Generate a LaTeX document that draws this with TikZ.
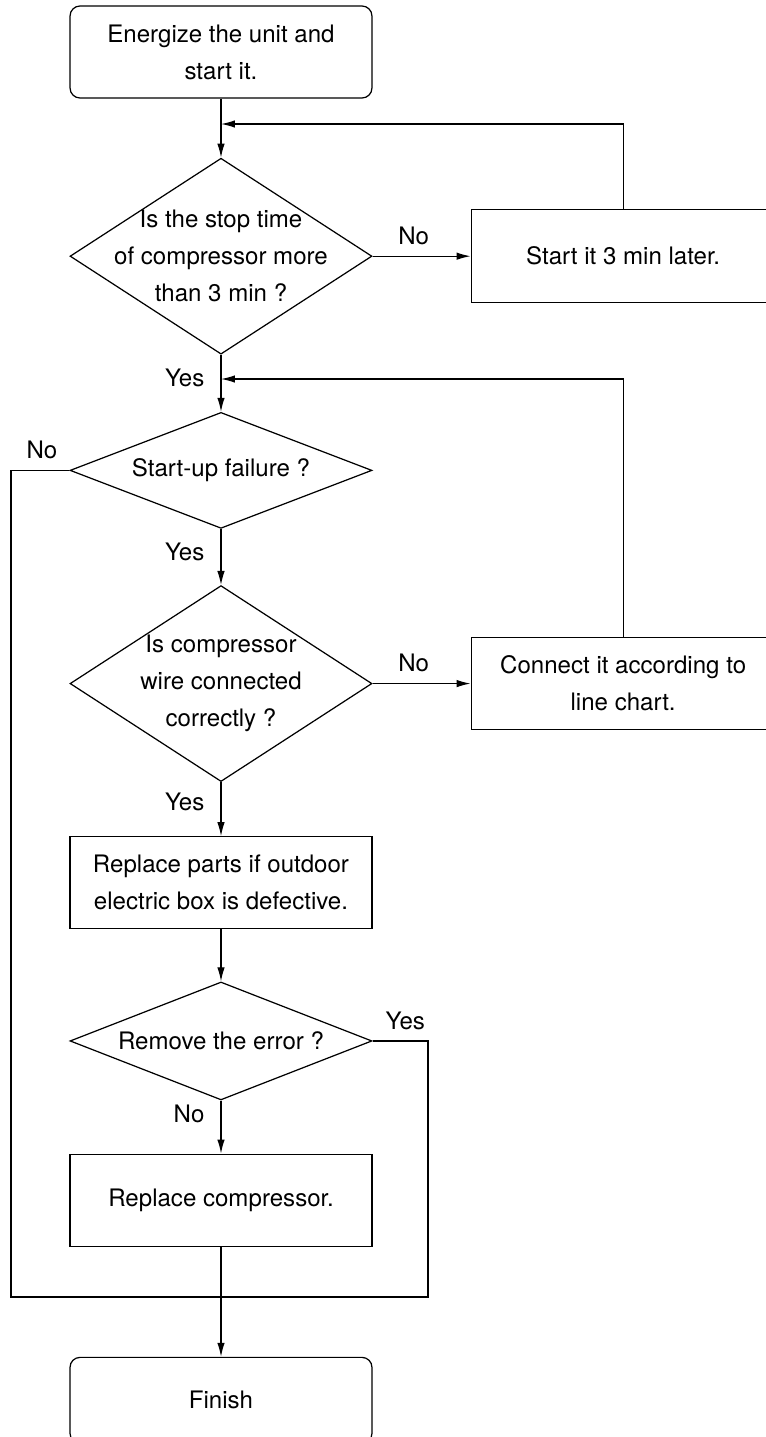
\documentclass[tikz,border=0pt]{standalone}
\usepackage{fontspec}
\setmainfont{TeX Gyre Heros}
\usetikzlibrary{positioning, arrows.meta, shapes.geometric}

\begin{document}
\begin{tikzpicture}[x=0.02cm,y=-0.02cm,->,>={Latex[length=2.8mm,width=1.5mm]},
      line width=0.7pt,font=\fontsize{13.7}{21}\selectfont,
      box/.style={draw,rectangle,align=center,inner sep=0pt,
        minimum width=6.04cm,minimum height=1.84cm},
      terminal/.style={box,rounded corners=0.2cm},
      decision/.style={draw,diamond,inner sep=0pt,minimum width=6.04cm},
      question/.style={align=center,inner sep=0pt},
      answer/.style={inner sep=0pt}]
      \useasboundingbox (0,0) rectangle (765,1437);
      \node[terminal] (start) at (221,52) {Energize the unit and\\start it.};
      \node[decision,minimum height=3.92cm,below=1.18cm of start] (stop) {};
      \node[question] (stoptext) at (stop) {Is the stop time\\of compressor more\\than 3 min ?};
      \node[box,minimum width=6.08cm,minimum height=1.86cm,right=1.96cm of stop] (later) {Start it 3 min later.};
      \node[decision,minimum height=2.32cm,below=1.14cm of stop] (fail) {};
      \node[question] (failtext) at (fail) {Start-up failure ?};
      \node[decision,minimum height=3.92cm,below=1.12cm of fail] (wire) {};
      \node[question] (wiretext) at (wire) {Is compressor\\wire connected\\correctly ?};
      \node[box,minimum width=6.08cm,right=1.96cm of wire] (fix) {Connect it according to\\line chart.};
      \node[box,below=1.08cm of wire] (parts) {Replace parts if outdoor\\electric box is defective.};
      \node[decision,minimum height=2.36cm,below=1.04cm of parts] (error) {};
      \node[question] (errortext) at (error) {Remove the error ?};
      \node[box,below=1.06cm of error] (comp) {Replace compressor.};
      \node[terminal,minimum height=1.72cm,below=2.2cm of comp] (finish) {Finish};

      \coordinate (back1) at (221,124);
      \coordinate (back2) at (221,379);
      \coordinate (lb) at (11,1297);
      \coordinate (rb) at (428,1297);

      \draw (start) -- (stop);
      \draw (stop) -- node[answer,pos=.42,above=0.22cm] (no1) {No} (later);
      \draw (later.north) |- (back1);
      \draw (stop) -- node[answer,pos=.4,left=0.32cm] (yes1) {Yes} (fail);
      \draw (fix.north) |- (back2);
      \draw (fail) -- node[answer,pos=.41,left=0.32cm] (yes2) {Yes} (wire);
      \draw (wire) -- node[answer,pos=.42,above=0.22cm] (no3) {No} (fix);
      \draw (wire) -- node[answer,pos=.37,left=0.32cm] (yes3) {Yes} (parts);
      \draw (parts) -- (error);
      \draw (error) -- node[answer,pos=.25,left=0.32cm] (no4) {No} (comp);
      \draw (comp) -- (finish);
      \draw[-] (fail.west) -| node[answer,pos=.235,above=0.22cm] (no2) {No} (lb)
        -- (rb) |- node[answer,pos=.705,above=0.2cm] (yes4) {Yes} (error.east);
    \end{tikzpicture}
\end{document}
